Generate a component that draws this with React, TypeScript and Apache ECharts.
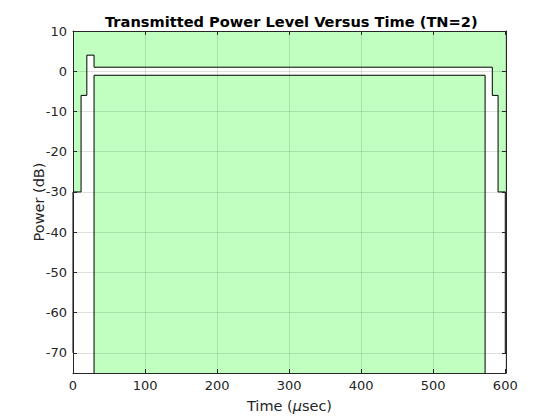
import React, { useEffect, useRef } from 'react';
import * as echarts from 'echarts';

const TITLE = 'Transmitted Power Level Versus Time (TN=2)';
const X_NAME_PARTS = ['Time (', 'μ', 'sec)'];
const Y_NAME = 'Power (dB)';
const X_MIN = 0;
const X_MAX = 601;
const X_STEP = 100;
const Y_MIN = -75;
const Y_MAX = 10;

// Upper power-time mask (time in µs, level in dB)
const upperTime = [0, 0, 11.2, 11.2, 19.2, 19.2, 29.2, 29.2, 582, 582, 590, 590, 600, 600, 601];
const upperLevel = [-70, -30, -30, -6, -6, 4, 4, 1, 1, -6, -6, -30, -30, -70, -70];
// Lower power-time mask
const lowerTime = [29.2, 29.2, 572, 572];
const lowerLevel = [-75, -1, -1, -75];

const FONT = '"DejaVu Sans", sans-serif';
const AX = '#262626';
const GREEN = '#c0ffc0';

export default function App() {
  const ref = useRef<HTMLDivElement>(null);
  useEffect(() => {
    if (!ref.current) return;
    const chart = echarts.init(ref.current, null, { renderer: 'svg' });
    const upper = upperTime.map((t, i) => [t, upperLevel[i]]);
    const lower = lowerTime.map((t, i) => [t, lowerLevel[i]]);
    const baseX = {
      type: 'value',
      min: X_MIN,
      max: X_MAX,
      interval: X_STEP,
      z: 10,
      axisLine: { show: true, onZero: false, lineStyle: { color: AX, width: 1 } },
      axisTick: { show: true, inside: true, length: 4, lineStyle: { color: AX } },
    };
    const baseY = {
      type: 'value',
      min: Y_MIN,
      max: Y_MAX,
      splitNumber: 8,
      z: 10,
      axisLine: { show: true, onZero: false, lineStyle: { color: AX, width: 1 } },
      axisTick: { show: true, inside: true, length: 4, lineStyle: { color: AX } },
    };
    chart.setOption({
      animation: false,
      backgroundColor: '#ffffff',
      title: {
        text: TITLE,
        left: 100,
        top: 9,
        textStyle: { fontFamily: FONT, fontSize: 14.6, fontWeight: 'bold', color: '#000' },
      },
      grid: { left: 73, right: 54, top: 31, bottom: 47, containLabel: false },
      xAxis: [
        {
          ...baseX,
          position: 'bottom',
          name: `{a|${X_NAME_PARTS[0]}}{b|${X_NAME_PARTS[1]}}{a|${X_NAME_PARTS[2]}}`,
          nameLocation: 'middle',
          nameGap: 25,
          nameMoveOverlap: false,
          nameTextStyle: {
            fontFamily: FONT,
            fontSize: 14.5,
            color: AX,
            rich: {
              a: { fontFamily: FONT, fontSize: 14.5, color: AX },
              b: { fontFamily: FONT, fontSize: 14.5, color: AX, fontStyle: 'italic' },
            },
          },
          axisLabel: {
            fontFamily: FONT,
            fontSize: 13,
            color: AX,
            margin: 6,
            formatter: (v: number) => (v % X_STEP === 0 ? String(v) : ''),
          },
          splitLine: { show: true, lineStyle: { color: 'rgba(38,38,38,0.15)', width: 1 } },
        },
        {
          ...baseX,
          position: 'top',
          axisLabel: { show: false },
          splitLine: { show: false },
        },
      ],
      yAxis: [
        {
          ...baseY,
          position: 'left',
          name: Y_NAME,
          nameLocation: 'middle',
          nameGap: 27,
          nameMoveOverlap: false,
          nameTextStyle: { fontFamily: FONT, fontSize: 14.5, color: AX },
          axisLabel: {
            fontFamily: FONT,
            fontSize: 13,
            color: AX,
            margin: 6,
            showMinLabel: false,
            formatter: (v: number) => (v % 10 === 0 ? String(v) : ''),
          },
          splitLine: { show: true, lineStyle: { color: 'rgba(38,38,38,0.15)', width: 1 } },
        },
        {
          ...baseY,
          position: 'right',
          axisLabel: { show: false },
          splitLine: { show: false },
        },
      ],
      series: [
        {
          type: 'line',
          xAxisIndex: 0,
          yAxisIndex: 0,
          data: upper,
          showSymbol: false,
          symbol: 'none',
          lineStyle: { color: '#000', width: 1 },
          areaStyle: { color: GREEN, opacity: 1, origin: 'end' },
          z: 2,
        },
        {
          type: 'line',
          xAxisIndex: 0,
          yAxisIndex: 0,
          data: lower,
          showSymbol: false,
          symbol: 'none',
          lineStyle: { color: '#000', width: 1 },
          areaStyle: { color: GREEN, opacity: 1, origin: 'start' },
          z: 2,
        },
      ],
    });
    return () => chart.dispose();
  }, []);
  return <div ref={ref} style={{ width: 560, height: 420, position: 'absolute', left: 0, top: 0 }} />;
}
